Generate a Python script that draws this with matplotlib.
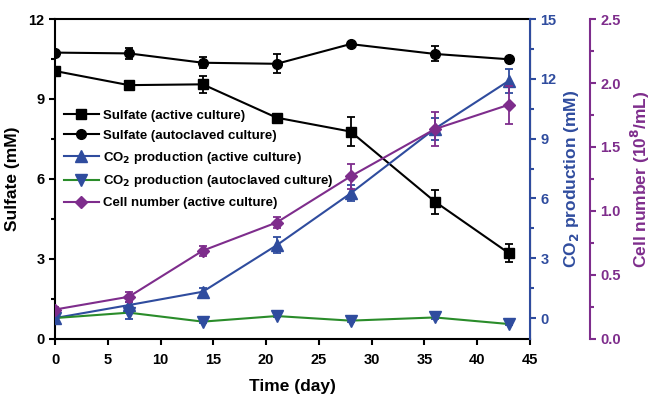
import matplotlib
matplotlib.use('Agg')
import matplotlib.pyplot as plt
import numpy as np

plt.rcParams['font.family'] = ['Liberation Sans', 'DejaVu Sans']
plt.rcParams['font.weight'] = 'bold'

# data
days = [0, 7, 14, 21, 28, 36, 43]

sulf_active = [10.05, 9.52, 9.55, 8.30, 7.78, 5.15, 3.22]
sulf_active_err = [0.1, 0.08, 0.32, 0.08, 0.56, 0.45, 0.34]
sulf_auto = [10.74, 10.71, 10.36, 10.32, 11.06, 10.69, 10.49]
sulf_auto_err = [0.05, 0.2, 0.2, 0.36, 0.05, 0.28, 0.05]

co2_active = [0.0, 0.65, 1.32, 3.65, 6.25, 9.5, 11.9]
co2_active_err = [0.1, 0.15, 0.2, 0.4, 0.4, 0.55, 0.6]
co2_auto = [0.0, 0.27, -0.18, 0.1, -0.13, 0.03, -0.3]
co2_auto_err = [0.05, 0.3, 0.05, 0.05, 0.05, 0.1, 0.05]

cells = [0.23, 0.33, 0.69, 0.91, 1.27, 1.64, 1.83]
cells_err = [0.02, 0.04, 0.04, 0.04, 0.1, 0.13, 0.15]

black = 'black'
blue = '#2F4C9E'
green = '#2A8C2A'
purple = '#7E2D8C'

fig = plt.figure(figsize=(6.51, 3.96), dpi=100)
ax = fig.add_axes([0.0845, 0.144, 0.7295, 0.808])
ax2 = ax.twinx()
ax3 = ax.twinx()
ax3.spines['right'].set_position(('axes', 1.126))

kw = dict(capsize=3, elinewidth=1.3, capthick=1.3, lw=1.5)
l1 = ax.errorbar(days, sulf_active, yerr=sulf_active_err, color=black, marker='s', ms=6.5,
                 label='Sulfate (active culture)', **kw)
l2 = ax.errorbar(days, sulf_auto, yerr=sulf_auto_err, color=black, marker='o', ms=7,
                 label='Sulfate (autoclaved culture)', **kw)
l3 = ax2.errorbar(days, co2_active, yerr=co2_active_err, color=blue, marker='^', ms=8,
                  label='CO$_2$ production (active culture)', **kw)
l4 = ax2.errorbar(days, co2_auto, yerr=co2_auto_err, color=green, marker='v', ms=8,
                  mfc=blue, mec=blue, ecolor=blue, label='CO$_2$ production (autoclaved culture)', **kw)
l5 = ax3.errorbar(days, cells, yerr=cells_err, color=purple, marker='D', ms=6.5,
                  label='Cell number (active culture)', **kw)

ax.set_xlim(0, 45)
ax.set_ylim(0, 12)
ax.set_xticks(np.arange(0, 46, 5))
ax.set_yticks([0, 3, 6, 9, 12])
ax.set_yticks(np.arange(1.5, 12, 3), minor=True)
ax.set_xlabel('Time (day)', fontsize=12.5, fontweight='bold', labelpad=9)
ax.set_ylabel('Sulfate (mM)', fontsize=12.5, fontweight='bold', labelpad=6)
ax.tick_params(axis='both', labelsize=10.5, width=1.5, length=4, direction='out')
ax.tick_params(axis='y', which='minor', width=1.5, length=3)
ax.tick_params(axis='x', pad=6)

ax2.set_ylim(-1.05, 15)
ax2.set_yticks([0, 3, 6, 9, 12, 15])
ax2.set_yticks(np.arange(1.5, 15, 3), minor=True)
ax2.set_ylabel('CO$_2$ production (mM)', fontsize=12.5, fontweight='bold', color=blue, labelpad=4)
ax2.tick_params(axis='y', which='both', colors=blue, labelsize=10.5, width=1.5, length=4)
ax2.tick_params(axis='y', which='minor', length=3)

ax3.set_ylim(0, 2.5)
ax3.set_yticks([0.0, 0.5, 1.0, 1.5, 2.0, 2.5])
ax3.set_yticks(np.arange(0.25, 2.5, 0.5), minor=True)
ax3.set_yticklabels(['0.0', '0.5', '1.0', '1.5', '2.0', '2.5'])
ax3.set_ylabel('Cell number (10$^8$/mL)', fontsize=12.5, fontweight='bold', color=purple, labelpad=6)
ax3.tick_params(axis='y', which='both', colors=purple, labelsize=10.5, width=1.5, length=4)
ax3.tick_params(axis='y', which='minor', length=3)

for s in ['left', 'bottom', 'top']:
    ax.spines[s].set_linewidth(1.5)
ax2.spines['right'].set_color(blue)
ax2.spines['right'].set_linewidth(1.5)
ax3.spines['right'].set_color(purple)
ax3.spines['right'].set_linewidth(1.5)
for a in (ax2, ax3):
    a.spines['left'].set_visible(False)
    a.spines['top'].set_visible(False)
    a.spines['bottom'].set_visible(False)
ax2.spines['right'].set_visible(True)
ax3.spines['right'].set_visible(True)

handles = [h.lines[0] for h in [l1, l2, l3, l4, l5]]
leg = ax.legend(handles, [h.get_label() for h in [l1, l2, l3, l4, l5]],
                loc='upper left', bbox_to_anchor=(0.0, 0.745), frameon=False,
                fontsize=9.5, handlelength=2.6, handletextpad=0.3, labelspacing=0.58,
                borderaxespad=0.3)

fig.savefig('out.png', dpi=100)
